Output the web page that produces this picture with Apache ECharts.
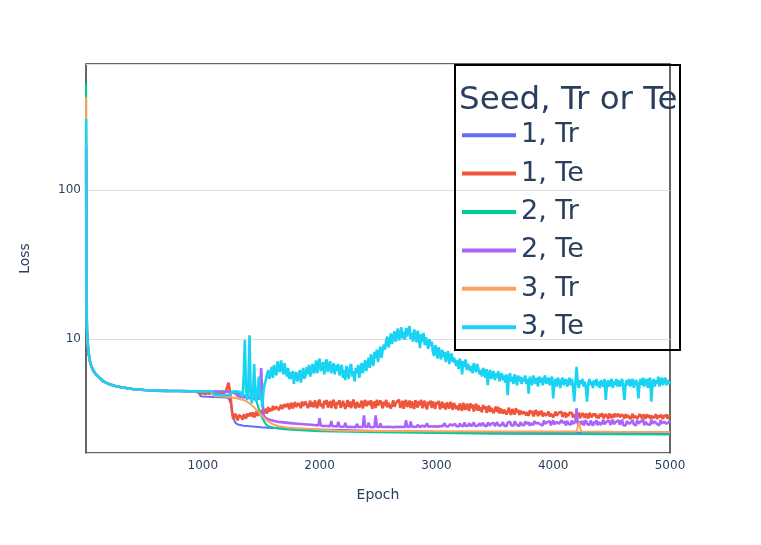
<!DOCTYPE html>
<html><head><meta charset="utf-8">
<script src="https://cdn.jsdelivr.net/npm/echarts@6/dist/echarts.min.js"></script>
<style>html,body{margin:0;padding:0;background:#fff}#c{width:761px;height:545px}</style>
</head><body><div id="c"></div>
<script>
// ---- data ----
const seriesNames = ['1, Tr', '1, Te', '2, Tr', '2, Te', '3, Tr', '3, Te'];
const seriesColors = ['#636efa', '#EF553B', '#00cc96', '#ab63fa', '#FFA15A', '#19d3f3'];
const xTicks = [1000, 2000, 3000, 4000, 5000];
const yTicks = [10, 100];

// shared early phase (all runs overlap)
const epochsEarly = [1, 2, 3, 5, 8, 12, 17, 25, 32, 45, 60, 80, 100, 120, 150, 175, 200, 250, 300, 400, 500, 600, 700, 800, 900, 940];
const earlyLoss = [90, 30, 16, 11.5, 9.8, 8.9, 7.8, 7.2, 6.6, 6.2, 5.85, 5.65, 5.45, 5.2, 5.08, 4.98, 4.85, 4.75, 4.62, 4.55, 4.51, 4.49, 4.48, 4.47, 4.47];
// loss at epoch 1 for each run (order of seriesNames)
const firstLoss = [250, 160, 520, 200, 420, 300];

// smooth training curves
const tr1Epochs = [960, 980, 1000, 1100, 1200, 1220, 1240, 1260, 1280, 1300, 1350, 1400, 1500, 1600, 1800, 2000, 2500, 3000, 3500, 4000, 4500, 5000];
const tr1Loss = [4.45, 4.15, 4.12, 4.08, 4.05, 4.02, 3.70, 2.95, 2.74, 2.67, 2.62, 2.60, 2.56, 2.53, 2.50, 2.47, 2.42, 2.39, 2.37, 2.36, 2.35, 2.34];

const tr2Epochs = [960, 1100, 1200, 1300, 1400, 1440, 1460, 1480, 1500, 1520, 1540, 1560, 1600, 1650, 1700, 1800, 2000, 2500, 3000, 3500, 4000, 4500, 5000];
const tr2Loss = [4.46, 4.45, 4.44, 4.30, 4.10, 4.00, 3.80, 3.40, 3.05, 2.85, 2.68, 2.60, 2.55, 2.51, 2.48, 2.45, 2.41, 2.37, 2.34, 2.32, 2.31, 2.30, 2.29];

const tr3Epochs = [960, 1060, 1080, 1100, 1200, 1280, 1340, 1380, 1420, 1460, 1500, 1520, 1560, 1600, 1650, 1720, 1800, 1950, 2170, 2500, 3000, 3500, 4000, 4200, 4220, 4240, 4500, 5000];
const tr3Loss = [4.47, 4.46, 4.30, 4.15, 4.10, 4.02, 3.92, 3.80, 3.60, 3.35, 3.10, 2.98, 2.80, 2.68, 2.60, 2.55, 2.52, 2.49, 2.43, 2.42, 2.41, 2.40, 2.40, 2.40, 2.75, 2.40, 2.39, 2.38];

// noisy test curves, sampled every 10 epochs
const teEpochs = [
 960, 970, 980, 990, 1000, 1010, 1020, 1030, 1040, 1050, 1060, 1070, 1080, 1090, 1100, 1110, 1120, 1130, 1140, 1150,
 1160, 1170, 1180, 1190, 1200, 1210, 1220, 1230, 1240, 1250, 1260, 1270, 1280, 1290, 1300, 1310, 1320, 1330, 1340, 1350,
 1360, 1370, 1380, 1390, 1400, 1410, 1420, 1430, 1440, 1450, 1460, 1470, 1480, 1490, 1500, 1510, 1520, 1530, 1540, 1550,
 1560, 1570, 1580, 1590, 1600, 1610, 1620, 1630, 1640, 1650, 1660, 1670, 1680, 1690, 1700, 1710, 1720, 1730, 1740, 1750,
 1760, 1770, 1780, 1790, 1800, 1810, 1820, 1830, 1840, 1850, 1860, 1870, 1880, 1890, 1900, 1910, 1920, 1930, 1940, 1950,
 1960, 1970, 1980, 1990, 2000, 2010, 2020, 2030, 2040, 2050, 2060, 2070, 2080, 2090, 2100, 2110, 2120, 2130, 2140, 2150,
 2160, 2170, 2180, 2190, 2200, 2210, 2220, 2230, 2240, 2250, 2260, 2270, 2280, 2290, 2300, 2310, 2320, 2330, 2340, 2350,
 2360, 2370, 2380, 2390, 2400, 2410, 2420, 2430, 2440, 2450, 2460, 2470, 2480, 2490, 2500, 2510, 2520, 2530, 2540, 2550,
 2560, 2570, 2580, 2590, 2600, 2610, 2620, 2630, 2640, 2650, 2660, 2670, 2680, 2690, 2700, 2710, 2720, 2730, 2740, 2750,
 2760, 2770, 2780, 2790, 2800, 2810, 2820, 2830, 2840, 2850, 2860, 2870, 2880, 2890, 2900, 2910, 2920, 2930, 2940, 2950,
 2960, 2970, 2980, 2990, 3000, 3010, 3020, 3030, 3040, 3050, 3060, 3070, 3080, 3090, 3100, 3110, 3120, 3130, 3140, 3150,
 3160, 3170, 3180, 3190, 3200, 3210, 3220, 3230, 3240, 3250, 3260, 3270, 3280, 3290, 3300, 3310, 3320, 3330, 3340, 3350,
 3360, 3370, 3380, 3390, 3400, 3410, 3420, 3430, 3440, 3450, 3460, 3470, 3480, 3490, 3500, 3510, 3520, 3530, 3540, 3550,
 3560, 3570, 3580, 3590, 3600, 3610, 3620, 3630, 3640, 3650, 3660, 3670, 3680, 3690, 3700, 3710, 3720, 3730, 3740, 3750,
 3760, 3770, 3780, 3790, 3800, 3810, 3820, 3830, 3840, 3850, 3860, 3870, 3880, 3890, 3900, 3910, 3920, 3930, 3940, 3950,
 3960, 3970, 3980, 3990, 4000, 4010, 4020, 4030, 4040, 4050, 4060, 4070, 4080, 4090, 4100, 4110, 4120, 4130, 4140, 4150,
 4160, 4170, 4180, 4190, 4200, 4210, 4220, 4230, 4240, 4250, 4260, 4270, 4280, 4290, 4300, 4310, 4320, 4330, 4340, 4350,
 4360, 4370, 4380, 4390, 4400, 4410, 4420, 4430, 4440, 4450, 4460, 4470, 4480, 4490, 4500, 4510, 4520, 4530, 4540, 4550,
 4560, 4570, 4580, 4590, 4600, 4610, 4620, 4630, 4640, 4650, 4660, 4670, 4680, 4690, 4700, 4710, 4720, 4730, 4740, 4750,
 4760, 4770, 4780, 4790, 4800, 4810, 4820, 4830, 4840, 4850, 4860, 4870, 4880, 4890, 4900, 4910, 4920, 4930, 4940, 4950,
 4960, 4970, 4980, 4990, 5000];

const te1Loss = [
 4.38, 4.33, 4.30, 4.34, 4.36, 4.31, 4.28, 4.33, 4.34, 4.29, 4.30, 4.35, 4.40, 4.33, 4.29, 4.32, 4.35, 4.30, 4.31, 4.36,
 4.37, 4.31, 4.33, 4.40, 4.50, 4.80, 5.10, 4.60, 3.90, 3.30, 2.90, 3.05, 3.15, 2.95, 2.85, 3.10, 3.18, 3.00, 2.88, 3.12,
 3.10, 2.92, 3.16, 3.04, 2.95, 3.20, 3.02, 3.22, 2.98, 3.08, 3.28, 3.05, 3.12, 3.30, 3.08, 3.36, 3.14, 3.20, 3.40, 3.16,
 3.50, 3.26, 3.42, 3.30, 3.56, 3.36, 3.28, 3.52, 3.60, 3.34, 3.46, 3.62, 3.40, 3.36, 3.66, 3.50, 3.42, 3.70, 3.38, 3.58,
 3.74, 3.42, 3.60, 3.78, 3.50, 3.40, 3.72, 3.66, 3.44, 3.82, 3.56, 3.46, 3.80, 3.70, 3.45, 3.62, 3.86, 3.50, 3.76, 3.48,
 3.88, 3.58, 3.44, 3.80, 3.92, 3.52, 3.70, 3.42, 3.86, 3.64, 3.90, 3.48, 3.60, 3.84, 3.44, 3.74, 3.91, 3.55, 3.41, 3.78,
 3.66, 3.89, 3.46, 3.58, 3.85, 3.74, 3.40, 3.62, 3.90, 3.50, 3.82, 3.44, 3.70, 3.93, 3.56, 3.43, 3.78, 3.88, 3.48, 3.64,
 3.86, 3.42, 3.72, 3.90, 3.54, 3.47, 3.84, 3.60, 3.89, 3.40, 3.68, 3.81, 3.45, 3.92, 3.58, 3.50, 3.87, 3.66, 3.43, 3.80,
 3.56, 3.91, 3.48, 3.74, 3.84, 3.42, 3.62, 3.88, 3.52, 3.45, 3.80, 3.69, 3.92, 3.46, 3.58, 3.86, 3.41, 3.76, 3.90, 3.50,
 3.64, 3.87, 3.44, 3.82, 3.55, 3.40, 3.89, 3.68, 3.47, 3.84, 3.60, 3.91, 3.43, 3.72, 3.85, 3.50, 3.38, 3.80, 3.62, 3.86,
 3.45, 3.82, 3.60, 3.40, 3.78, 3.66, 3.84, 3.38, 3.56, 3.80, 3.44, 3.70, 3.36, 3.76, 3.58, 3.42, 3.79, 3.62, 3.35, 3.72,
 3.76, 3.40, 3.58, 3.33, 3.70, 3.62, 3.30, 3.74, 3.48, 3.36, 3.68, 3.55, 3.29, 3.71, 3.44, 3.64, 3.27, 3.52, 3.69, 3.32,
 3.60, 3.30, 3.48, 3.22, 3.62, 3.40, 3.54, 3.20, 3.36, 3.58, 3.25, 3.46, 3.56, 3.18, 3.38, 3.52, 3.24, 3.50, 3.17, 3.42,
 3.48, 3.16, 3.36, 3.44, 3.12, 3.28, 3.46, 3.20, 3.10, 3.40, 3.32, 3.12, 3.44, 3.22, 3.36, 3.09, 3.30, 3.40, 3.14, 3.26,
 3.36, 3.08, 3.24, 3.05, 3.33, 3.18, 3.30, 3.03, 3.14, 3.34, 3.22, 3.04, 3.28, 3.10, 3.31, 3.02, 3.20, 3.30, 3.06, 3.16,
 3.27, 3.02, 3.16, 3.24, 2.99, 3.10, 3.26, 3.06, 2.98, 3.22, 3.14, 3.25, 3.00, 3.08, 3.23, 2.97, 3.18, 3.04, 3.21, 3.12,
 3.20, 2.97, 3.12, 2.95, 3.18, 3.06, 3.21, 2.94, 3.02, 3.19, 3.10, 2.96, 3.17, 3.04, 2.93, 3.20, 3.08, 2.98, 3.16, 3.05,
 3.17, 2.96, 3.08, 2.93, 3.15, 3.03, 3.18, 2.94, 3.00, 3.14, 3.10, 2.92, 3.16, 3.05, 2.95, 3.13, 2.98, 3.17, 3.02, 2.93,
 3.15, 3.00, 2.92, 3.12, 3.04, 2.93, 3.14, 2.97, 3.08, 3.13, 2.91, 3.02, 3.15, 2.95, 3.06, 3.12, 2.92, 3.00, 3.14, 3.04,
 2.94, 3.12, 3.03, 2.91, 3.13, 2.98, 3.10, 2.92, 3.06, 3.12, 2.95, 3.01, 3.13, 2.90, 3.08, 2.97, 3.11, 3.02, 2.91, 3.10,
 3.00, 3.12, 2.92, 3.06, 3.02];

const te2Loss = [
 4.46, 4.45, 4.45, 4.44, 4.44, 4.45, 4.45, 4.44, 4.43, 4.44, 4.44, 4.43, 4.43, 4.44, 4.44, 4.43, 4.43, 4.44, 4.44, 4.43,
 4.43, 4.44, 4.44, 4.43, 4.43, 4.42, 4.42, 4.42, 4.42, 4.41, 4.40, 4.35, 4.30, 4.20, 4.15, 4.12, 4.10, 4.09, 4.08, 4.07,
 4.06, 4.05, 4.05, 4.04, 4.03, 4.03, 4.02, 4.01, 4.00, 3.99, 3.98, 3.97, 3.96, 4.50, 6.40, 4.00, 3.10, 3.00, 2.95, 2.92,
 2.90, 2.88, 2.86, 2.85, 2.83, 2.82, 2.81, 2.80, 2.79, 2.78, 2.77, 2.77, 2.76, 2.76, 2.75, 2.75, 2.74, 2.74, 2.73, 2.73,
 2.72, 2.72, 2.71, 2.71, 2.70, 2.70, 2.70, 2.69, 2.69, 2.69, 2.68, 2.68, 2.68, 2.67, 2.67, 2.67, 2.66, 2.66, 2.65, 2.65,
 2.64, 2.64, 2.63, 2.63, 2.95, 2.63, 2.62, 2.61, 2.62, 2.61, 2.60, 2.61, 2.61, 2.60, 2.82, 2.60, 2.59, 2.60, 2.60, 2.59,
 2.78, 2.59, 2.56, 2.58, 2.62, 2.58, 2.74, 2.57, 2.56, 2.58, 2.60, 2.57, 2.55, 2.57, 2.59, 2.56, 2.70, 2.57, 2.55, 2.57,
 2.60, 2.57, 3.07, 2.58, 2.56, 2.57, 2.75, 2.57, 2.60, 2.56, 2.55, 2.57, 3.07, 2.58, 2.59, 2.56, 2.72, 2.57, 2.55, 2.57,
 2.60, 2.57, 2.55, 2.58, 2.66, 2.57, 2.58, 2.56, 2.55, 2.58, 2.62, 2.57, 2.56, 2.58, 2.64, 2.57, 2.55, 2.57, 2.85, 2.58,
 2.58, 2.57, 2.80, 2.58, 2.56, 2.58, 2.62, 2.57, 2.66, 2.58, 2.56, 2.58, 2.63, 2.57, 2.57, 2.59, 2.72, 2.58, 2.58, 2.60,
 2.62, 2.59, 2.66, 2.60, 2.68, 2.58, 2.63, 2.61, 2.66, 2.59, 2.64, 2.72, 2.60, 2.62, 2.59, 2.65, 2.68, 2.60, 2.63, 2.61,
 2.70, 2.61, 2.64, 2.59, 2.72, 2.63, 2.67, 2.60, 2.76, 2.62, 2.66, 2.61, 2.72, 2.64, 2.60, 2.68, 2.76, 2.62, 2.65, 2.61,
 2.66, 2.72, 2.61, 2.69, 2.74, 2.63, 2.67, 2.60, 2.75, 2.68, 2.62, 2.71, 2.66, 2.73, 2.61, 2.69, 2.77, 2.64, 2.70, 2.62,
 2.70, 2.77, 2.63, 2.68, 2.60, 2.75, 2.71, 2.79, 2.64, 2.69, 2.62, 2.80, 2.72, 2.65, 2.70, 2.61, 2.77, 2.68, 2.74, 2.63,
 2.81, 2.70, 2.64, 2.76, 2.62, 2.72, 2.79, 2.66, 2.82, 2.71, 2.63, 2.74, 2.80, 2.68, 2.72, 2.63, 2.84, 2.70, 2.65, 2.77,
 2.72, 2.81, 2.64, 2.75, 2.85, 2.68, 2.62, 2.78, 2.82, 2.70, 2.64, 2.86, 2.74, 2.66, 2.79, 2.63, 2.83, 2.72, 2.76, 2.65,
 2.85, 2.70, 2.62, 2.78, 3.43, 2.73, 2.64, 2.80, 2.68, 2.83, 2.63, 2.76, 2.86, 2.69, 2.74, 2.65, 2.84, 2.72, 2.63, 2.79,
 2.70, 2.86, 2.64, 2.77, 2.83, 2.66, 2.74, 2.87, 2.68, 2.63, 2.80, 2.75, 2.84, 2.65, 2.72, 2.88, 2.69, 2.64, 2.79, 2.73,
 2.85, 2.67, 2.76, 2.88, 2.64, 2.72, 2.63, 2.81, 2.84, 2.70, 2.65, 2.78, 2.87, 2.68, 2.74, 2.64, 2.86, 2.71, 2.66, 2.80,
 2.73, 2.88, 2.64, 2.78, 2.85, 2.67, 2.75, 2.66, 2.89, 2.71, 2.65, 2.80, 2.86, 2.69, 2.76, 2.64, 2.87, 2.72, 2.66, 2.79,
 2.86, 2.70, 2.66, 2.78, 2.84];

const te3Loss = [
 4.47, 4.47, 4.47, 4.46, 4.46, 4.47, 4.47, 4.46, 4.46, 4.46, 4.46, 4.46, 4.46, 4.40, 4.25, 4.23, 4.22, 4.21, 4.21, 4.21,
 4.21, 4.20, 4.20, 4.20, 4.20, 4.21, 4.21, 4.22, 4.30, 4.40, 4.45, 4.46, 4.46, 4.45, 4.44, 4.42, 4.40, 4.30, 4.10, 5.50,
 9.90, 4.60, 3.90, 4.80, 10.6, 4.20, 3.70, 4.50, 6.80, 4.10, 3.80, 4.60, 5.60, 3.90, 4.20, 3.50, 4.60, 5.00, 5.30, 5.80,
 6.20, 5.40, 5.90, 6.50, 5.50, 6.70, 6.10, 5.70, 7.10, 6.30, 6.00, 7.20, 6.40, 5.80, 6.90, 6.10, 5.60, 6.40, 5.40, 6.00,
 5.40, 6.10, 5.00, 5.80, 6.00, 5.20, 5.50, 6.20, 5.10, 5.90, 6.40, 5.40, 5.70, 6.50, 5.80, 6.70, 5.60, 6.20, 6.80, 5.90,
 6.20, 7.20, 5.90, 6.80, 7.40, 6.10, 6.50, 7.00, 5.80, 6.90, 7.30, 6.00, 6.60, 7.10, 5.90, 6.40, 6.90, 5.80, 6.70, 6.10,
 6.80, 5.70, 6.30, 6.70, 5.50, 6.20, 5.30, 6.60, 6.00, 5.40, 6.50, 6.80, 5.60, 6.10, 5.20, 6.40, 5.90, 6.70, 5.50, 6.30,
 6.90, 5.90, 6.50, 7.20, 6.10, 6.80, 7.50, 6.40, 7.90, 7.10, 6.60, 8.20, 7.40, 8.50, 7.00, 8.00, 8.90, 7.50, 8.40, 9.20,
 8.50, 9.80, 10.4, 8.80, 9.50, 10.9, 9.30, 10.2, 11.3, 9.60, 10.6, 11.8, 9.80, 10.5, 12.0, 10.1, 11.2, 9.90, 11.9, 10.4,
 11.5, 12.2, 10.0, 11.0, 9.60, 11.6, 10.5, 9.50, 11.4, 10.2, 8.70, 10.8, 9.60, 11.0, 9.10, 10.3, 9.40, 8.60, 10.0, 9.00,
 9.60, 8.20, 7.70, 9.10, 8.50, 7.40, 8.80, 8.00, 7.30, 8.50, 7.60, 8.20, 7.00, 7.90, 8.30, 6.80, 7.60, 8.00, 7.00, 7.50,
 7.70, 6.60, 7.20, 6.30, 7.40, 6.90, 5.80, 7.10, 6.50, 7.30, 6.20, 6.80, 7.00, 6.10, 6.60, 5.90, 6.90, 6.40, 6.00, 6.80,
 6.60, 5.80, 6.20, 5.60, 6.40, 6.00, 5.50, 6.30, 4.90, 5.90, 6.20, 5.40, 5.80, 6.10, 5.30, 5.90, 5.50, 6.10, 5.20, 5.70,
 5.90, 5.30, 5.70, 5.10, 5.80, 4.20, 5.40, 5.90, 5.20, 5.60, 5.00, 5.80, 5.40, 4.90, 5.70, 5.20, 5.60, 5.00, 5.50, 5.20,
 5.70, 5.00, 5.40, 4.30, 5.60, 5.20, 4.90, 5.70, 5.30, 5.00, 5.50, 4.80, 5.60, 5.10, 5.50, 4.90, 5.40, 5.70, 5.00, 5.30,
 5.50, 4.90, 5.30, 5.60, 4.00, 5.10, 5.40, 4.80, 5.50, 5.20, 4.70, 5.30, 5.50, 4.90, 5.20, 5.40, 4.80, 5.10, 5.50, 4.90,
 5.40, 4.80, 3.80, 5.00, 6.50, 5.10, 4.70, 5.30, 5.00, 5.40, 4.80, 5.20, 4.70, 3.80, 5.00, 5.40, 4.90, 5.20, 4.70, 5.30,
 4.90, 5.40, 4.80, 5.20, 4.70, 5.30, 5.00, 4.80, 5.40, 3.90, 5.00, 5.30, 4.80, 5.10, 5.40, 4.70, 5.20, 4.90, 5.40, 4.80,
 5.30, 4.80, 5.10, 5.40, 4.70, 3.90, 5.00, 5.30, 4.90, 5.40, 4.80, 5.20, 5.40, 4.70, 5.10, 5.30, 4.90, 4.00, 5.20, 5.40,
 4.90, 5.50, 4.80, 5.20, 5.40, 4.70, 5.30, 5.50, 3.80, 5.00, 5.40, 4.80, 5.30, 5.00, 5.60, 4.80, 5.20, 5.50, 4.90, 5.30,
 5.50, 4.90, 5.30, 5.00, 5.20];

// ---- build ----
function build(first, lateEpochs, lateLoss) {
  const pts = [[epochsEarly[0], first]];
  for (let i = 1; i < epochsEarly.length; i++) pts.push([epochsEarly[i], earlyLoss[i - 1]]);
  const n = Math.min(lateEpochs.length, lateLoss.length);
  for (let i = 0; i < n; i++) pts.push([lateEpochs[i], lateLoss[i]]);
  return pts;
}
const lateParts = [
  [tr1Epochs, tr1Loss], [teEpochs, te1Loss],
  [tr2Epochs, tr2Loss], [teEpochs, te2Loss],
  [tr3Epochs, tr3Loss], [teEpochs, te3Loss]
];
const FONT = 'DejaVu Sans';
const TXT = '#2a3f5f';
const series = seriesNames.map((name, i) => ({
  name, type: 'line', showSymbol: false, symbol: 'none', animation: false,
  color: seriesColors[i],
  // test curves are dense noisy bands in the original; a slightly wider stroke fills them
  lineStyle: { width: (i % 2 === 1) ? 2.6 : 2, color: seriesColors[i] },
  data: build(firstLoss[i], lateParts[i][0], lateParts[i][1])
}));

const chart = echarts.init(document.getElementById('c'), null, { renderer: 'canvas' });
chart.setOption({
  animation: false,
  backgroundColor: '#ffffff',
  grid: { left: 86, right: 91, top: 64, bottom: 92, show: true, borderColor: '#333', borderWidth: 1.5, backgroundColor: 'transparent' },
  xAxis: {
    type: 'value', min: 0, max: 5000, interval: 1000,
    axisLine: { show: false }, axisTick: { show: false }, splitLine: { show: false },
    axisLabel: { color: TXT, fontSize: 12, fontFamily: FONT, margin: 7,
      formatter: v => (xTicks.indexOf(v) >= 0 ? String(v) : '') },
    name: 'Epoch', nameLocation: 'middle', nameGap: 35,
    nameTextStyle: { color: TXT, fontSize: 14, fontFamily: FONT }
  },
  yAxis: {
    type: 'log', logBase: 10, min: 1.72, max: 701,
    axisLine: { show: false }, axisTick: { show: false },
    splitLine: { show: true, lineStyle: { color: '#dddddd', width: 1 } },
    axisLabel: { color: TXT, fontSize: 12, fontFamily: FONT, margin: 5, padding: [4, 0, 0, 0],
      formatter: v => { for (const t of yTicks) { if (Math.abs(v - t) < t * 0.001) return String(t); } return ''; } },
    name: 'Loss', nameLocation: 'middle', nameGap: 54,
    nameTextStyle: { color: TXT, fontSize: 14, fontFamily: FONT }
  },
  legend: {
    orient: 'vertical', left: 462, top: 116, padding: 0, itemGap: 0,
    icon: 'rect', itemWidth: 54, itemHeight: 4, selectedMode: false,
    data: seriesNames,
    textStyle: { color: TXT, fontSize: 27, lineHeight: 38.4, fontFamily: FONT }
  },
  graphic: [
    { type: 'text', left: 459, top: 84, z: 100,
      style: { text: 'Seed, Tr or Te', font: '32.5px "DejaVu Sans"', fill: TXT } },
    { type: 'rect', shape: { x: 455, y: 65, width: 225, height: 285 }, z: 100,
      style: { fill: 'none', stroke: '#000', lineWidth: 2 } }
  ],
  series
});
</script></body></html>
